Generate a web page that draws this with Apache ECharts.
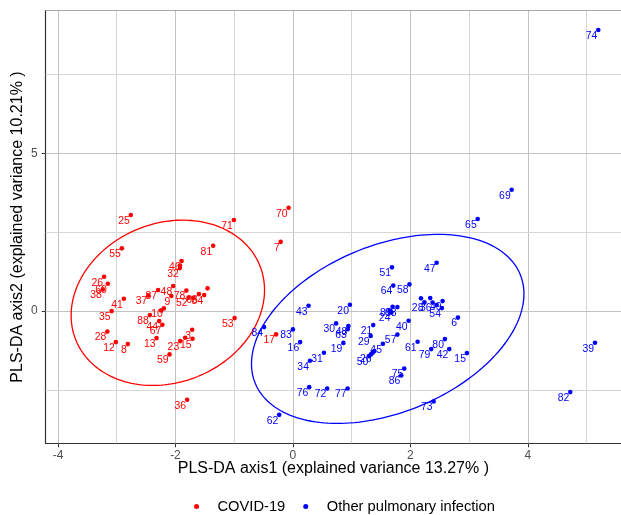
<!DOCTYPE html>
<html>
<head>
<meta charset="utf-8">
<script src="https://cdn.jsdelivr.net/npm/echarts@6/dist/echarts.min.js"></script>
<style>
html,body{margin:0;padding:0;background:#fff;}
#c{width:621px;height:515px;}
</style>
</head>
<body>
<div id="c"></div>
<script>
// ---- data ----
const groups = ['COVID-19', 'Other pulmonary infection'];
const redLab = ['25','71','70','7','81','55','46','','32','26','60','38','41','35','37','87','48','9','78','52','','66','84','','10','','88','44','67','28','12','8','13','3','23','','15','59','53','17','36'];
const redX = [-2.760,-1.005,-0.073,-0.208,-1.358,-2.913,-1.896,-1.925,-1.925,-3.216,-3.152,-3.237,-2.879,-3.087,-2.462,-2.296,-2.039,-2.070,-1.814,-1.777,-1.698,-1.601,-1.511,-1.453,-2.198,-2.244,-2.436,-2.278,-2.223,-3.160,-3.015,-2.811,-2.322,-1.716,-1.920,-1.835,-1.709,-2.101,-0.993,-0.286,-1.801];
const redY = [3.044,2.885,3.275,2.194,2.070,1.988,1.585,1.443,1.363,1.088,0.866,0.688,0.390,0.000,0.498,0.666,0.793,0.476,0.650,0.428,0.422,0.539,0.507,0.720,0.086,0.022,-0.127,-0.317,-0.434,-0.650,-0.983,-1.046,-0.856,-0.593,-0.951,-0.847,-0.878,-1.373,-0.222,-0.739,-2.812];
const blueLab = ['74','69','65','51','47','64','58','43','20','89','68','','24','','28','','36','','49','54','6','40','84','83','30','48','63','21','16','29','57','19','45','61','80','79','42','15','31','34','','26','','50','75','86','76','72','77','73','62','39','82'];
const blueX = [5.201,3.726,3.147,1.687,2.448,1.709,1.985,0.267,0.971,1.698,1.780,1.652,1.678,2.181,2.240,2.339,2.380,2.448,2.550,2.538,2.811,1.971,-0.491,0.000,0.736,0.945,0.934,1.368,0.124,1.324,1.780,0.860,1.533,2.124,2.589,2.356,2.663,2.964,0.528,0.290,1.388,1.358,1.329,1.300,1.896,1.845,0.278,0.584,0.932,2.397,-0.233,5.145,4.724];
const blueY = [8.909,3.846,2.917,1.386,1.531,0.808,0.847,0.168,0.200,0.136,0.127,0.016,-0.041,0.403,0.276,0.412,0.270,0.190,0.317,0.095,-0.206,-0.308,-0.507,-0.580,-0.390,-0.476,-0.577,-0.444,-0.983,-0.786,-0.745,-1.008,-1.037,-0.973,-0.888,-1.205,-1.205,-1.332,-1.322,-1.576,-1.268,-1.322,-1.373,-1.427,-1.823,-2.039,-2.410,-2.451,-2.451,-2.863,-3.288,-1.005,-2.568];
// confidence ellipses: [centerX, centerY, halfWidthX, halfHeightY, correlation]
const redEllipse = [-2.13, 0.263, 1.647, 2.619, 0.154];
const blueEllipse = [1.615, -0.564, 2.320, 2.996, 0.370];
// axis
const xTicks = [-4, -2, 0, 2, 4];
const xMinorGrid = [-3, -1, 1, 3, 5];
const yTicks = [0, 5];
const yMinorGrid = [-2.5, 2.5, 7.5];
const xRange = [-4.21, 5.588];
const yRange = [-4.19, 9.52];

const RED = '#FF0000', BLUE = '#0000FF';
const FONT = '"Liberation Sans", Arial, sans-serif';

function pts(xs, ys, labs) {
  return xs.map((x, i) => ({ value: [x, ys[i]], lab: labs[i] }));
}

function ellipseSeries(name, params, color) {
  return {
    type: 'custom',
    name: name + ' ellipse',
    z: 2,
    silent: true,
    data: [params],
    encode: { x: 0, y: 1 },
    renderItem: function (p, api) {
      const cx = api.value(0), cy = api.value(1), hx = api.value(2), hy = api.value(3), r = api.value(4);
      const N = 180, out = [];
      const s = Math.sqrt(1 - r * r);
      for (let i = 0; i <= N; i++) {
        const t = 2 * Math.PI * i / N;
        out.push(api.coord([cx + hx * Math.cos(t), cy + r * hy * Math.cos(t) + hy * s * Math.sin(t)]));
      }
      return { type: 'polyline', shape: { points: out }, style: { stroke: color, fill: null, lineWidth: 1.3 } };
    }
  };
}

function scatterSeries(name, data, color) {
  return {
    type: 'scatter',
    name: name,
    z: 3,
    symbol: 'circle',
    symbolSize: 4.6,
    itemStyle: { color: color, opacity: 1 },
    data: data,
    label: {
      show: true,
      formatter: p => p.data.lab,
      position: [1.3, 8.3],
      align: 'right',
      verticalAlign: 'middle',
      color: color,
      fontSize: 10.4,
      fontFamily: FONT
    },
    labelLayout: { hideOverlap: false }
  };
}

const gridLines = [];
xTicks.forEach(v => gridLines.push({ xAxis: v, lineStyle: { color: '#c2c2c2', width: 1, type: 'solid' } }));
xMinorGrid.forEach(v => gridLines.push({ xAxis: v, lineStyle: { color: '#d6d6d6', width: 1, type: 'solid' } }));
yTicks.forEach(v => gridLines.push({ yAxis: v, lineStyle: { color: '#c2c2c2', width: 1, type: 'solid' } }));
yMinorGrid.forEach(v => gridLines.push({ yAxis: v, lineStyle: { color: '#d6d6d6', width: 1, type: 'solid' } }));
// panel top border
gridLines.push({ yAxis: yRange[1], lineStyle: { color: '#a6a6a6', width: 1.2, type: 'solid' } });

const chart = echarts.init(document.getElementById('c'), null, { renderer: 'canvas' });
chart.setOption({
  animation: false,
  backgroundColor: '#fff',
  grid: { left: 45.7, top: 10.7, width: 575.3, height: 432.6, show: false, containLabel: false, outerBoundsMode: 'none' },
  xAxis: {
    type: 'value', min: xRange[0], max: xRange[1],
    name: 'PLS-DA axis1 (explained variance 13.27% )',
    nameLocation: 'middle', nameGap: 17, nameMoveOverlap: false,
    nameTextStyle: { fontSize: 16, color: '#000', fontFamily: FONT },
    axisLine: { show: true, onZero: false, lineStyle: { color: '#333', width: 1.2 } },
    axisTick: { show: true, length: 4, customValues: xTicks, lineStyle: { color: '#333' } },
    axisLabel: { customValues: xTicks, margin: 6, fontSize: 12, color: '#4d4d4d', fontFamily: FONT },
    splitLine: { show: false }
  },
  yAxis: {
    type: 'value', min: yRange[0], max: yRange[1],
    name: 'PLS-DA axis2 (explained variance 10.21% )',
    nameLocation: 'middle', nameGap: 20, nameRotate: 90, nameMoveOverlap: false,
    nameTextStyle: { fontSize: 16, color: '#000', fontFamily: FONT },
    axisLine: { show: true, onZero: false, lineStyle: { color: '#333', width: 1.2 } },
    axisTick: { show: true, length: 4, customValues: yTicks, lineStyle: { color: '#333' } },
    axisLabel: { customValues: yTicks, margin: 8, fontSize: 12, color: '#4d4d4d', fontFamily: FONT },
    splitLine: { show: false }
  },
  legend: {
    data: groups,
    left: 189, top: 494,
    icon: 'circle', itemWidth: 32, itemHeight: 5, itemGap: 18,
    textStyle: { fontSize: 14.7, color: '#000', fontFamily: FONT },
    selectedMode: false
  },
  series: [
    {
      type: 'scatter', name: 'grid', data: [], silent: true, z: 1,
      markLine: { silent: true, symbol: ['none', 'none'], label: { show: false }, z: 1, data: gridLines, animation: false }
    },
    ellipseSeries(groups[0], redEllipse, RED),
    ellipseSeries(groups[1], blueEllipse, BLUE),
    scatterSeries(groups[0], pts(redX, redY, redLab), RED),
    scatterSeries(groups[1], pts(blueX, blueY, blueLab), BLUE)
  ]
});
</script>
</body>
</html>
